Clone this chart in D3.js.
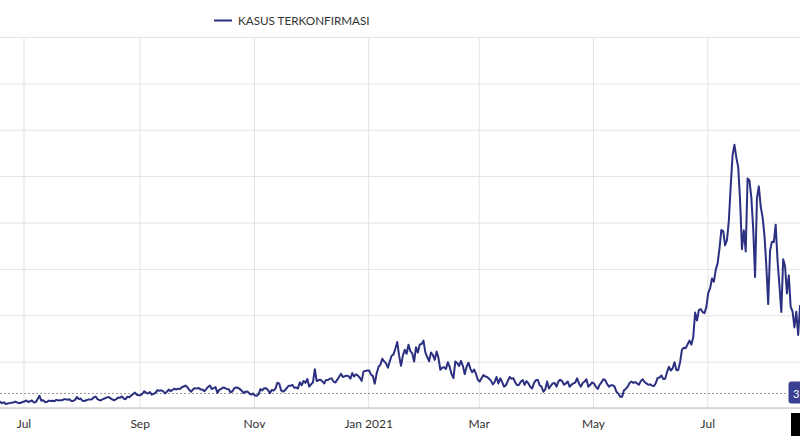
<!DOCTYPE html>
<html><head><meta charset="utf-8">
<script src="https://cdn.jsdelivr.net/npm/d3@7"></script>
<style>body{margin:0;background:#fff}svg{display:block}</style>
</head><body><svg id="c" width="800" height="447"></svg>
<script>
// ---- data ----
const seriesName = "KASUS TERKONFIRMASI";
const startDate = "2020-06-15";
const cases2020Jun = [1017,1106,1031,1331,1041,1226,862,954,1051,1113,1178,1385,1198,1082,1082,1293];
const cases2020Jul = [1385,1624,1301,1447,1607,1209,1268,1853,2657,1611,1681,1282,1282,1591,1522,1574,1462,1752,1639,1693,1655,1882,1906,1761,1868,1492,1525,1748,2381,1904,2040];
const cases2020Aug = [1560,1519,1679,1815,1815,1882,2277,2473,1893,1687,1693,1942,2098,2307,2345,2081,1821,1673,1902,2266,2197,2495,2037,1877,2447,2306,2719,3003,3308,2858,2743];
const cases2020Sep = [2775,3075,3622,3269,3128,3444,2880,3046,3307,3861,3737,3806,3636,3141,3507,3963,3635,3891,4168,3989,4176,4071,4465,4634,4823,4494,3874,3509,4002,4284];
const cases2020Oct = [4174,4317,4007,3992,3622,4056,4538,4850,4094,4294,4497,3267,3906,4127,4411,4301,4105,4070,3373,3602,4267,4432,4369,4070,3732,3222,3520,3565,3143,2897,3143];
const cases2020Nov = [2696,2618,2973,4065,3778,4262,4237,3880,3178,3880,3770,4173,5444,5272,3807,3535,3807,4265,4798,4792,4998,4360,4442,4192,5534,4917,5828,5418,6267,4617];
const cases2020Dec = [5092,5533,8369,5803,6027,6089,5754,5292,6058,6033,6310,6388,5681,5489,6120,6725,7354,6689,6848,6982,6848,6347,7514,6809,7259,6982,6528,5854,7903,8002,8074];
const cases2021Jan = [8072,7203,6877,5246,7445,8854,9321,10617,10046,9640,8692,10047,11278,11557,12818,14224,11287,9086,11287,12568,11703,13632,12258,11788,9994,13094,11948,13695,13802,14518,12001];
const cases2021Feb = [10994,10088,11984,11434,10379,12156,10827,8242,8700,8776,8435,9869,8844,7300,6462,10029,9687,9039,10163,9100,7300,8900,9775,8493,7700,8300,7400,6100];
const cases2021Mar = [5700,6400,7100,6800,6700,6300,5900,5100,5600,6700,5300,6400,5600,4600,4900,5800,6700,6300,6400,5500,4900,5000,5700,6000,5000,5800,5300,4600,4200,5400,6000];
const cases2021Apr = [6100,4900,4600,3500,4000,5700,4200,4800,5300,5400,4600,5700,6100,5800,5000,5300,5700,4600,5000,5300,5500,6400,5300,4600,5400,5700,6200,4600,5000,5500];
const cases2021May = [5300,4600,4100,5000,5500,6200,6000,5200,4600,4900,4900,4600,3500,3100,2400,2400,3800,4100,4600,5400,5700,5400,5600,5300,5000,5800,6200,5600,5300,5000,5100];
const cases2021Jun = [4824,4725,5353,6486,6594,6993,6242,6294,7725,8892,8083,8569,9868,8189,8161,9944,12624,12990,12906,13737,14536,13668,15308,20574,18872,21095,21342,20694,20467,21807];
const cases2021Jul = [24836,25830,27913,27233,29745,31189,34379,38391,38124,35094,36197,40427,47899,54517,56757,54000,51952,44721,34257,38325,33772,49509,49071,45416,38679,28228,45203,47791,43479,41168,37284];
const cases2021Aug = [30738,22404,33900,35867,35764,39532,31753,26415,20709,32081,30625,24709,28598,21800,20813,17384,20741,15768,22053,20004,16744];
const yTickValues = [0,10000,20000,30000,40000,50000,60000,70000,80000];
const xTickDates = ["2020-07-01","2020-09-01","2020-11-01","2021-01-01","2021-03-01","2021-05-01","2021-07-01"];
const xTickLabels = ["Jul","Sep","Nov","Jan 2021","Mar","May","Jul"];
const referenceValue = 3230;
const badgeLabel = "3";

// ---- build ----
const cases = [].concat(cases2020Jun,cases2020Jul,cases2020Aug,cases2020Sep,cases2020Oct,cases2020Nov,cases2020Dec,
  cases2021Jan,cases2021Feb,cases2021Mar,cases2021Apr,cases2021May,cases2021Jun,cases2021Jul,cases2021Aug);
const parse = d3.utcParse("%Y-%m-%d");
const t0 = parse(startDate).getTime();
const DAY = 864e5;
const data = cases.map((v,i)=>({date:new Date(t0 + (i+0.5)*DAY), value:v}));

const W = 800, plotTop = 37, plotBottom = 408;
const svg = d3.select("#c");
const x = d3.scaleUtc().domain([parse("2020-07-01"), parse("2021-07-01")]).range([23.5, 707.3]);
const y = d3.scaleLinear().domain([0, 80000]).range([plotBottom, plotTop]);
const font = "Lato, 'Liberation Sans', Arial, sans-serif";

// horizontal grid
const gy = svg.append("g").call(d3.axisLeft(y).tickValues(yTickValues).tickSize(-W).tickFormat(""));
gy.select(".domain").remove();
gy.selectAll(".tick line").attr("stroke","#e3e3e3").attr("stroke-width",1);

// vertical grid
const tickDates = xTickDates.map(parse);
const gx = svg.append("g").attr("transform",`translate(0,${plotBottom})`)
  .call(d3.axisBottom(x).tickValues(tickDates).tickSize(-(plotBottom-plotTop)).tickFormat(""));
gx.select(".domain").remove();
gx.selectAll(".tick line").attr("stroke","#e3e3e3").attr("stroke-width",1);

// x axis labels + axis line
const ax = svg.append("g").attr("transform",`translate(0,${plotBottom})`)
  .call(d3.axisBottom(x).tickValues(tickDates).tickSize(0).tickPadding(11).tickFormat((d,i)=>xTickLabels[i]));
ax.select(".domain").remove();
ax.selectAll("text").attr("fill","#333").style("font-family",font).style("font-size","12px");
svg.append("line").attr("x1",0).attr("x2",W).attr("y1",plotBottom).attr("y2",plotBottom)
  .attr("stroke","#d2d2d2").attr("stroke-width",1.5);

// reference dotted line
const ry = Math.round(y(referenceValue))+0.5;
svg.append("line").attr("x1",0).attr("x2",788).attr("y1",ry).attr("y2",ry)
  .attr("stroke","#9a9a9a").attr("stroke-width",1).attr("stroke-dasharray","2,2");

// clip + line
svg.append("clipPath").attr("id","clip").append("rect").attr("x",0).attr("y",0).attr("width",W).attr("height",plotBottom);
svg.append("path").datum(data).attr("clip-path","url(#clip)")
  .attr("fill","none").attr("stroke","#2b3080").attr("stroke-width",2).attr("stroke-linejoin","round")
  .attr("d", d3.line().x(d=>x(d.date)).y(d=>y(d.value)));

// last value badge (cut off at right edge)
svg.append("rect").attr("x",788.5).attr("y",ry-12).attr("width",24).attr("height",22).attr("rx",3)
  .attr("fill","#3a3f8f");
svg.append("text").attr("x",793).attr("y",ry+4).attr("fill","#fff").style("font-family",font)
  .style("font-size","11px").text(badgeLabel);
// crosshair date badge (cut off)
svg.append("rect").attr("x",791).attr("y",plotBottom+5).attr("width",20).attr("height",23).attr("fill","#000");

// legend
const lg = svg.append("g");
lg.append("line").attr("x1",214).attr("x2",232).attr("y1",20.5).attr("y2",20.5).attr("stroke","#2b3080").attr("stroke-width",2);
lg.append("text").attr("x",238).attr("y",24.5).attr("fill","#333").style("font-family",font).style("font-size","11.7px").text(seriesName);
</script>
</body></html>
